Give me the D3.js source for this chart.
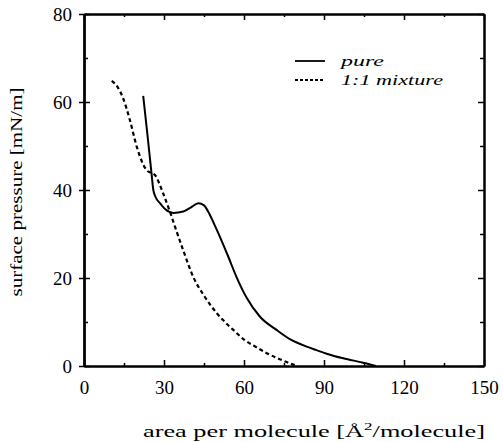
<!DOCTYPE html>
<html>
<head>
<meta charset="utf-8">
<script src="https://cdn.jsdelivr.net/npm/d3@7"></script>
<style>
  body { margin: 0; background: #fff; }
  svg { display: block; }
</style>
</head>
<body>
<div id="chart"></div>
<script>
/* DATA */
// pure compound isotherm
const pureArea = [22.2, 23.8, 25.4, 26, 27, 28.5, 30.5, 33.5, 37.2, 40, 42.9, 45, 47, 49, 51, 54, 57, 61, 66, 72.2, 77.2, 83.5, 87.2, 91, 97.2, 104.7, 109.5];
const purePressure = [61.4, 52.5, 43.3, 40, 38.2, 37, 35.6, 34.8, 35.1, 36, 37, 36.5, 34.6, 32, 29.3, 25, 20.5, 15.5, 11.2, 8.2, 6.1, 4.4, 3.6, 2.8, 1.75, 0.75, 0];

// 1:1 mixture isotherm
const mixArea = [10.4, 12.5, 14.7, 17.2, 19.8, 23.5, 26.6, 29.7, 32.2, 34.1, 37.2, 41, 45, 49.8, 53, 56, 60, 64, 68, 72, 76, 79];
const mixPressure = [64.8, 63.5, 60.8, 55.9, 49.8, 44.5, 43.4, 39.2, 35.1, 31.7, 26.3, 20.2, 16, 12, 9.9, 8.2, 6, 4.5, 3.1, 1.9, 0.9, 0.2];

const xMajor = [0, 30, 60, 90, 120, 150];
const xMinor = [15, 45, 75, 105, 135];
const yMajor = [0, 20, 40, 60, 80];
const yMinor = [10, 30, 50, 70];

const legendLabels = ["pure", "1:1 mixture"];

/* LAYOUT */
const width = 503,
  height = 442,
  margin = { top: 14, right: 19, bottom: 76, left: 84 },
  serif = "'Liberation Serif', 'Times New Roman', Times, serif";

const svg = d3.select("#chart")
  .append("svg")
  .attr("width", width)
  .attr("height", height);

const xScale = d3.scaleLinear()
  .domain([0, 150])
  .range([margin.left, width - margin.right]);

const yScale = d3.scaleLinear()
  .domain([0, 80])
  .range([height - margin.bottom, margin.top]);

const x0 = margin.left, x1 = width - margin.right,
  y0 = height - margin.bottom, y1 = margin.top;

function styleAxis(g) {
  g.attr("font-family", serif);
  g.selectAll(".domain").attr("stroke", "#000").attr("stroke-width", 2);
  g.selectAll(".tick line").attr("stroke", "#000").attr("stroke-width", 1.5);
  g.selectAll(".tick text")
    .attr("font-family", serif)
    .attr("font-size", 19)
    .attr("fill", "#000");
}

// bottom axis with labels, ticks point inward
svg.append("g")
  .attr("transform", `translate(0, ${y0})`)
  .call(d3.axisBottom(xScale).tickValues(xMajor).tickSize(-6).tickSizeOuter(0).tickPadding(15))
  .call(styleAxis);
svg.append("g")
  .attr("transform", `translate(0, ${y0})`)
  .call(d3.axisBottom(xScale).tickValues(xMinor).tickSize(-3).tickSizeOuter(0).tickFormat(""))
  .call(styleAxis);

// top axis
svg.append("g")
  .attr("transform", `translate(0, ${y1})`)
  .call(d3.axisTop(xScale).tickValues(xMajor).tickSize(-6).tickSizeOuter(0).tickFormat(""))
  .call(styleAxis);
svg.append("g")
  .attr("transform", `translate(0, ${y1})`)
  .call(d3.axisTop(xScale).tickValues(xMinor).tickSize(-3).tickSizeOuter(0).tickFormat(""))
  .call(styleAxis);

// left axis: labels + outward part, then inward part
svg.append("g")
  .attr("transform", `translate(${x0}, 0)`)
  .call(d3.axisLeft(yScale).tickValues(yMajor).tickSize(5).tickSizeOuter(0).tickPadding(7))
  .call(styleAxis);
svg.append("g")
  .attr("transform", `translate(${x0}, 0)`)
  .call(d3.axisLeft(yScale).tickValues(yMajor).tickSize(-6).tickSizeOuter(0).tickFormat(""))
  .call(styleAxis);
svg.append("g")
  .attr("transform", `translate(${x0}, 0)`)
  .call(d3.axisLeft(yScale).tickValues(yMinor).tickSize(-4).tickSizeOuter(0).tickFormat(""))
  .call(styleAxis);

// right axis
svg.append("g")
  .attr("transform", `translate(${x1}, 0)`)
  .call(d3.axisRight(yScale).tickValues(yMajor).tickSize(-6).tickSizeOuter(0).tickFormat(""))
  .call(styleAxis);
svg.append("g")
  .attr("transform", `translate(${x1}, 0)`)
  .call(d3.axisRight(yScale).tickValues(yMinor).tickSize(-4).tickSizeOuter(0).tickFormat(""))
  .call(styleAxis);

/* AXIS TITLES */
const xTitle = svg.append("text")
  .attr("x", 143)
  .attr("y", 437)
  .attr("font-family", serif)
  .attr("font-size", 17)
  .attr("textLength", 342)
  .attr("lengthAdjust", "spacingAndGlyphs");
xTitle.append("tspan").text("area per molecule [Å");
xTitle.append("tspan").attr("font-size", 11).attr("dy", -7).text("2");
xTitle.append("tspan").attr("dy", 7).text("/molecule]");

svg.append("text")
  .attr("transform", `translate(22, 192) rotate(-90)`)
  .attr("text-anchor", "middle")
  .attr("font-family", serif)
  .attr("font-size", 17)
  .attr("textLength", 209)
  .attr("lengthAdjust", "spacingAndGlyphs")
  .text("surface pressure [mN/m]");

/* CURVES */
const lineGen = d3.line()
  .x(d => xScale(d[0]))
  .y(d => yScale(d[1]))
  .curve(d3.curveMonotoneX);

const pureData = pureArea.map((a, i) => [a, purePressure[i]]);
const mixData = mixArea.map((a, i) => [a, mixPressure[i]]);

svg.append("path")
  .datum(pureData)
  .attr("d", lineGen)
  .attr("fill", "none")
  .attr("stroke", "#000")
  .attr("stroke-width", 2);

svg.append("path")
  .datum(mixData)
  .attr("d", lineGen)
  .attr("fill", "none")
  .attr("stroke", "#000")
  .attr("stroke-width", 2.2)
  .attr("stroke-dasharray", "4,3");

/* LEGEND */
const legend = svg.append("g");
const legendDash = [null, "3,2"];
const legendWidths = [43, 102];

legendLabels.forEach((label, i) => {
  const ly = 61 + i * 19;
  legend.append("line")
    .attr("x1", 295).attr("x2", 325)
    .attr("y1", ly).attr("y2", ly)
    .attr("stroke", "#000")
    .attr("stroke-width", 1.8)
    .attr("stroke-dasharray", legendDash[i]);
  legend.append("text")
    .attr("x", 341)
    .attr("y", ly + 5)
    .attr("font-family", serif)
    .attr("font-size", 15)
    .attr("font-style", "italic")
    .attr("textLength", legendWidths[i])
    .attr("lengthAdjust", "spacingAndGlyphs")
    .text(label);
});
</script>
</body>
</html>
